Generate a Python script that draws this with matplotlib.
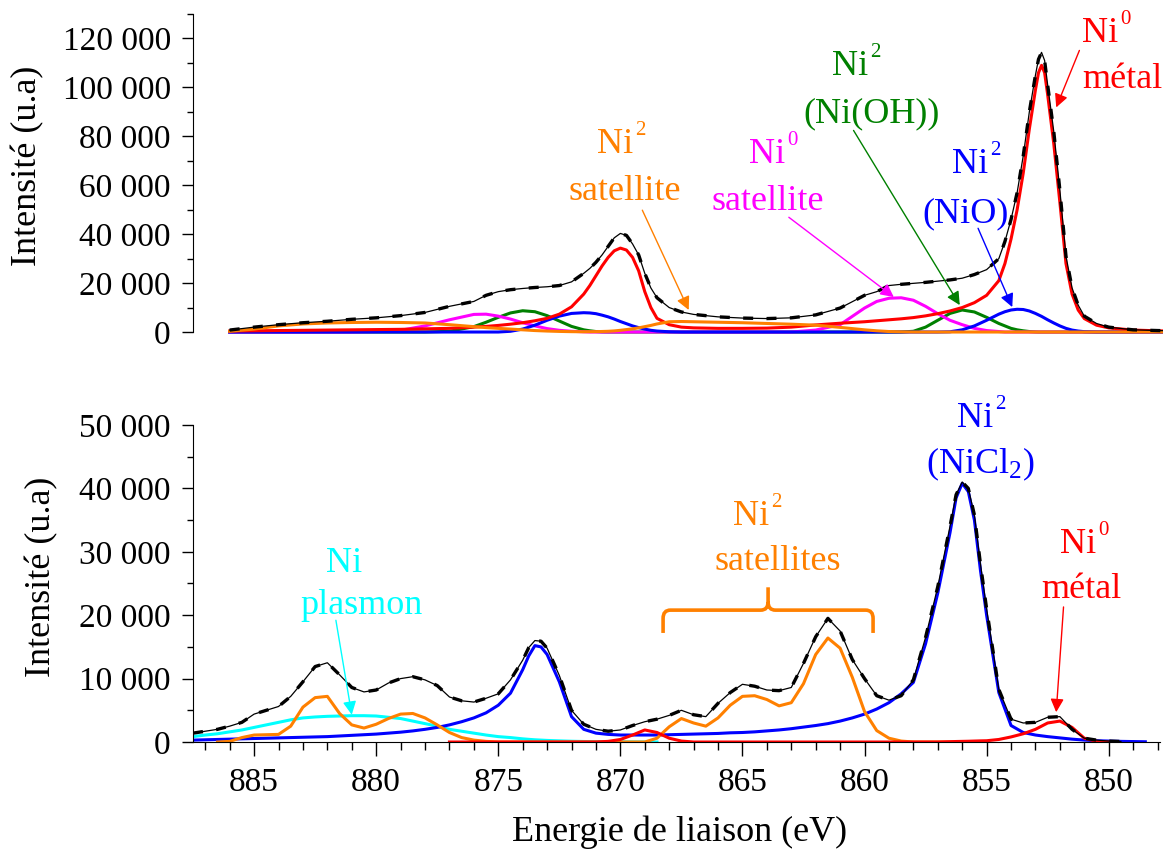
import numpy as np
import matplotlib
matplotlib.use("Agg")
import matplotlib.pyplot as plt
from matplotlib.ticker import MultipleLocator, FuncFormatter
from matplotlib.path import Path
from matplotlib.patches import PathPatch

plt.rcParams["font.family"] = ["Liberation Serif", "DejaVu Serif"]
plt.rcParams["mathtext.fontset"] = "custom"
plt.rcParams["mathtext.rm"] = "Liberation Serif"
plt.rcParams["mathtext.it"] = "Liberation Serif:italic"
plt.rcParams["mathtext.bf"] = "Liberation Serif:bold"

nan = np.nan

# ---- top panel (Ni metal sample) ----
top_energy = [886, 885, 884, 883, 882, 881, 880, 879, 878, 877,
              876, 875.5, 875, 874.5, 874, 873.5, 873, 872.5, 872, 871.5,
              871.25, 871, 870.75, 870.5, 870.25, 870, 869.75, 869.5, 869.25, 869,
              868.75, 868.5, 868, 867.5, 867, 866, 865, 864, 863, 862,
              861, 860, 859.5, 859, 858.5, 858, 857.5, 857, 856.5, 856,
              855.5, 855, 854.5, 854.25, 854, 853.75, 853.5, 853.25, 853, 852.875,
              852.75, 852.625, 852.5, 852.25, 852, 851.75, 851.5, 851.25, 851, 850.5,
              850, 849, 848, 847.5]

top_data = [800, 2000, 3000, 3800, 4400, 5200, 5800, 6700, 8000, 10500,
            12500, 15000, 16500, 17300, 17800, 18200, 18500, 19000, 20500, 24000,
            26000, 28500, 31500, 35000, 38500, 40300, 39500, 36000, 31500, 24000,
            18000, 14000, 10000, 8200, 7200, 6200, 5700, 5500, 5800, 7000,
            9800, 15000, 16500, 19000, 19500, 19900, 20300, 20800, 21300, 22000,
            23500, 25500, 30000, 37000, 46000, 57000, 72000, 90000, 105000, 111500,
            114300, 111000, 101000, 82000, 58000, 31000, 18000, 11000, 6500, 3500,
            2000, 900, 600, 500]

top_ni0 = [400, 500, 600, 700, 800, 900, 1000, 1100, 1300, 1500,
           2000, 2300, 2700, 3200, 3800, 4600, 5600, 7300, 10300, 15500,
           19000, 23000, 27000, 30500, 33200, 34300, 33500, 30500, 25000, 16500,
           10000, 5600, 3000, 2000, 1700, 1500, 1500, 1600, 2000, 2900,
           3600, 4200, 4600, 5000, 5400, 5900, 6600, 7500, 8600, 10000,
           12000, 15000, 21000, 28000, 38000, 50000, 65000, 83000, 99000, 106000,
           109000, 106000, 97000, 77000, 53000, 28000, 15500, 9000, 5500, 2800,
           1700, 800, 500, 400]

top_ni2_sat = [300, 1200, 2500, 3300, 3700, 3900, 4000, 3900, 3700, 3000,
               2200, 1800, 1500, 1200, 900, 600, 400, 250, 150, 100,
               120, 150, 220, 300, 450, 700, 1000, 1300, 1700, 2200,
               2700, 3300, 4200, 4300, 4200, 4000, 3800, 3500, 3200, 2800,
               1900, 900, 500, 200, 80, 0, 0, 0, 0, 0,
               0, 0, 0, 0, 0, 0, 0, 0, 0, 0,
               0, 0, 0, 0, 0, 0, 0, 0, 0, 0,
               0, 0, 0, 0]

top_ni0_sat = [0, 0, 0, 0, 0, 0, 200, 700, 2500, 5000,
               7200, 7300, 6500, 5300, 3800, 2500, 1400, 700, 300, 100,
               0, 0, 0, 0, 0, 0, 0, 0, 0, 0,
               0, 0, 0, 0, 0, 0, 0, 0, 0, 800,
               3000, 9800, 12500, 13800, 14000, 13000, 10500, 7500, 4800, 3000,
               1500, 600, 200, 0, 0, 0, 0, 0, 0, 0,
               0, 0, 0, 0, 0, 0, 0, 0, 0, 0,
               0, 0, 0, 0]

top_nioh = [0, 0, 0, 0, 0, 0, 0, 0, 0, 300,
            2200, 4000, 6000, 7800, 8700, 8300, 6700, 4500, 2300, 900,
            500, 200, 50, 0, 0, 0, 0, 0, 0, 0,
            0, 0, 0, 0, 0, 0, 0, 0, 0, 0,
            0, 0, 0, 0, 0, 300, 2000, 4800, 7600, 9000,
            8200, 6000, 3500, 2500, 1500, 900, 500, 200, 50, 0,
            0, 0, 0, 0, 0, 0, 0, 0, 0, 0,
            0, 0, 0, 0]

top_nio = [0, 0, 0, 0, 0, 0, 0, 0, 0, 0,
           0, 0, 0, 300, 1200, 2800, 4800, 6500, 7600, 7900,
           7800, 7500, 6900, 6200, 5300, 4300, 3400, 2500, 1800, 1200,
           700, 400, 100, 0, 0, 0, 0, 0, 0, 0,
           0, 0, 0, 0, 0, 0, 0, 0, 100, 900,
           2500, 4800, 7300, 8300, 9000, 9300, 9200, 8600, 7600, 7000,
           6400, 5700, 5000, 3700, 2500, 1500, 800, 400, 150, 0,
           0, 0, 0, 0]

# ---- bottom panel (NiCl2 sample) ----
bot_energy = [887.5, 887, 886.5, 886, 885.5, 885, 884.5, 884, 883.5, 883,
              882.5, 882, 881.5, 881, 880.5, 880, 879.5, 879, 878.5, 878,
              877.5, 877, 876.5, 876, 875.5, 875, 874.5, 874, 873.75, 873.5, 873.25, 873,
              872.5, 872, 871.5, 871, 870.5, 870, 869.5, 869, 868.5, 868,
              867.5, 867, 866.5, 866, 865.5, 865, 864.5, 864, 863.5, 863,
              862.5, 862, 861.5, 861, 860.5, 860, 859.5, 859, 858.5, 858,
              857.5, 857, 856.5, 856.25, 856, 855.75, 855.5, 855.25, 855, 854.5,
              854, 853.5, 853, 852.5, 852, 851.5, 851, 850.5, 850, 849.5,
              849, 848.5, 848]

bot_data = [1400, 1700, 2000, 2500, 3100, 4400, 5000, 5600, 7200, 9500,
            11900, 12500, 10600, 8600, 7900, 8200, 9300, 10000, 10300, 9800,
            8900, 7100, 6500, 6300, 6900, 7600, 9800, 12900, 14900, 16000, 15900, 14800,
            10500, 5000, 2800, 2000, 1700, 1900, 2600, 3200, 3600, 4200,
            5000, 4300, 4000, 6100, 7800, 9100, 8800, 8200, 8100, 8600,
            12400, 16600, 19500, 17500, 13000, 10000, 7300, 6600, 7300, 9800,
            16500, 24500, 34000, 39000, 41000, 40000, 35800, 28000, 21000, 8300,
            3600, 3000, 3100, 3900, 4000, 2000, 600, 300, 150, 80,
            nan, nan, nan]

bot_nicl2 = [300, 350, 400, 450, 500, 550, 600, 650, 700, 750,
             800, 850, 950, 1050, 1150, 1250, 1400, 1550, 1750, 2000,
             2300, 2700, 3200, 3800, 4600, 5800, 7700, 11400, 13600, 15200, 15000, 13800,
             9500, 4000, 2000, 1400, 1200, 1100, 1100, 1100, 1100, 1150,
             1200, 1250, 1300, 1350, 1450, 1500, 1600, 1750, 1900, 2100,
             2350, 2600, 2900, 3300, 3800, 4400, 5200, 6200, 7600, 9400,
             15500, 23500, 33000, 38500, 40800, 39500, 35000, 27000, 20000, 7800,
             2600, 1500, 1100, 850, 650, 450, 300, 200, 150, 100,
             70, 40, nan]

bot_ni2_sat = [nan, nan, 0, 100, 700, 1100, 1150, 1200, 2500, 5500,
               7000, 7200, 4500, 2700, 2200, 2800, 3700, 4400, 4500, 3800,
               2700, 1500, 700, 300, 100, 0, 0, 0, 0, 0, 0, 0,
               0, 0, 0, 0, 0, 0, 0, 0, 600, 2400,
               3700, 3000, 2500, 3800, 5800, 7200, 7300, 6700, 5700, 6200,
               9200, 13800, 16400, 14800, 10200, 4800, 1800, 600, 150, 0,
               0, 0, 0, 0, 0, 0, nan, nan, nan, nan,
               nan, nan, nan, nan, nan, nan, nan, nan, nan, nan,
               nan, nan, nan]

bot_plasmon = [850, 1100, 1300, 1600, 1900, 2300, 2700, 3100, 3500, 3800,
               3950, 4050, 4100, 4150, 4150, 4100, 3900, 3700, 3300, 2900,
               2500, 2000, 1700, 1400, 1100, 850, 700, 500, 420, 350, 300, 250,
               180, 120, 80, 50, 30, 20, 10, 0, 0, nan,
               nan, nan, nan, nan, nan, nan, nan, nan, nan, nan,
               nan, nan, nan, nan, nan, nan, nan, nan, nan, nan,
               nan, nan, nan, nan, nan, nan, nan, nan, nan, nan,
               nan, nan, nan, nan, nan, nan, nan, nan, nan, nan,
               nan, nan, nan]

bot_ni0 = [nan, nan, nan, nan, nan, nan, nan, nan, nan, nan,
           nan, nan, nan, nan, nan, nan, nan, nan, nan, nan,
           nan, 0, 0, 0, 0, 0, 0, 0, 0, 0, 0, 0,
           0, 0, 0, 0, 100, 400, 1100, 1900, 1500, 600,
           150, 0, 0, 0, 0, 0, 0, 0, 0, 0,
           0, 0, 0, 0, 0, 0, 0, 0, 0, 0,
           0, 0, 50, 80, 100, 120, 150, 180, 200, 400,
           800, 1300, 2000, 3000, 3300, 2300, 600, 100, 0, nan,
           nan, nan, nan]

ORANGE = "#FF8000"
MAGENTA = "#FF00FF"
GREEN = "#008000"
BLUE = "#0000FF"
RED = "#FF0000"
CYAN = "#00FFFF"

FS = 26
fmt = FuncFormatter(lambda v, p: f"{int(round(v)):,}".replace(",", " "))

fig = plt.figure(figsize=(11.63, 8.52), dpi=100)
ax_top = fig.add_axes([0.166, 0.6103, 0.8314, 0.3733])
ax_bot = fig.add_axes([0.166, 0.1291, 0.8314, 0.3721])

for ax in (ax_top, ax_bot):
    ax.set_xlim(887.5, 847.9)
    ax.spines["top"].set_visible(False)
    ax.spines["right"].set_visible(False)
    ax.yaxis.set_major_formatter(fmt)
    ax.tick_params(axis="both", which="major", direction="out", length=8,
                   width=1, labelsize=24, pad=8)
    ax.tick_params(axis="both", which="minor", direction="out", length=4.5,
                   width=1)

ax_top.set_ylim(0, 130000)
ax_top.set_yticks(np.arange(0, 120001, 20000))
ax_top.set_yticks(np.arange(10000, 130001, 20000), minor=True)
ax_top.spines["bottom"].set_visible(False)
ax_top.tick_params(axis="x", which="both", bottom=False, labelbottom=False)

ax_bot.set_ylim(0, 50000)
ax_bot.yaxis.set_major_locator(MultipleLocator(10000))
ax_bot.yaxis.set_minor_locator(MultipleLocator(5000))
ax_bot.xaxis.set_major_locator(MultipleLocator(5))
ax_bot.xaxis.set_minor_locator(MultipleLocator(1))
ax_bot.tick_params(axis="x", which="major", length=10)
ax_bot.tick_params(axis="x", which="minor", length=5.5)

LW = 2.2
for vals, c in [(top_nioh, GREEN), (top_ni0_sat, MAGENTA), (top_nio, BLUE),
                (top_ni0, RED), (top_ni2_sat, ORANGE)]:
    ax_top.plot(top_energy, vals, color=c, lw=LW, clip_on=False)
ax_top.plot(top_energy, top_data, color="black", lw=0.9, clip_on=False)
ax_top.plot(top_energy, top_data, color="black", lw=2.4, ls=(0, (3, 4)),
            clip_on=False)

for vals, c in [(bot_plasmon, CYAN), (bot_nicl2, BLUE), (bot_ni2_sat, ORANGE),
                (bot_ni0, RED)]:
    ax_bot.plot(bot_energy, vals, color=c, lw=LW)
ax_bot.plot(bot_energy, bot_data, color="black", lw=0.9)
ax_bot.plot(bot_energy, bot_data, color="black", lw=2.4, ls=(0, (3, 4)))


def label(ax, x, y, s, color, sup=None):
    ax.text(x, y, s, color=color, fontsize=FS, ha="center", va="baseline",
            clip_on=False)
    if sup is not None:
        # small raised index just right of "Ni"
        ax.annotate(sup, xy=(x, y), xytext=(14.5, 13), textcoords="offset points",
                    color=color, fontsize=15, ha="left", va="baseline",
                    annotation_clip=False)


def arrow(ax, tail, tip, color):
    ax.annotate("", xy=tip, xytext=tail,
                arrowprops=dict(arrowstyle="-|>", color=color, lw=1,
                                mutation_scale=20, shrinkA=0, shrinkB=0))


# top annotations
label(ax_top, 870.23, 73000, "Ni", ORANGE, "2")
label(ax_top, 869.8, 53900, "satellite", ORANGE)
arrow(ax_top, (869.1, 49800), (867.2, 9000), ORANGE)
label(ax_top, 863.97, 69000, "Ni", MAGENTA, "0")
label(ax_top, 863.95, 49800, "satellite", MAGENTA)
arrow(ax_top, (863.1, 46900), (858.8, 14300), MAGENTA)
label(ax_top, 860.6, 104900, "Ni", GREEN, "2")
label(ax_top, 859.7, 85700, "(Ni(OH))", GREEN)
arrow(ax_top, (860.45, 82400), (856.1, 11000), GREEN)
label(ax_top, 855.68, 64900, "Ni", BLUE, "2")
label(ax_top, 855.85, 44900, "(NiO)", BLUE)
arrow(ax_top, (855.35, 42400), (853.95, 10200), BLUE)
label(ax_top, 850.35, 118400, "Ni", RED, "0")
label(ax_top, 849.45, 99600, "métal", RED)
arrow(ax_top, (851.2, 115100), (852.15, 91800), RED)

# bottom annotations
label(ax_bot, 881.3, 26800, "Ni", CYAN)
label(ax_bot, 880.6, 20200, "plasmon", CYAN)
arrow(ax_bot, (881.65, 19200), (881.0, 4300), CYAN)
label(ax_bot, 864.63, 34200, "Ni", ORANGE, "2")
label(ax_bot, 863.55, 27100, "satellites", ORANGE)
label(ax_bot, 855.48, 49700, "Ni", BLUE, "2")
label(ax_bot, 855.25, 42400, r"(NiCl$_{2}$)", BLUE)
label(ax_bot, 851.25, 29800, "Ni", RED, "0")
label(ax_bot, 851.1, 22700, "métal", RED)
arrow(ax_bot, (851.85, 21300), (852.15, 4700), RED)

# curly bracket over the satellites
bl, br, bm = 868.25, 859.65, 863.95
y_end, y_bar, y_tip = 17200, 20800, 24400
rx, ry = 0.3, 1300
verts = [(bl, y_end), (bl, y_bar - ry), (bl, y_bar), (bl - rx, y_bar),
         (bm + rx, y_bar), (bm, y_bar), (bm, y_bar + ry), (bm, y_tip),
         (bm, y_bar + ry), (bm, y_bar), (bm - rx, y_bar),
         (br + rx, y_bar), (br, y_bar), (br, y_bar - ry), (br, y_end)]
codes = [Path.MOVETO, Path.LINETO, Path.CURVE3, Path.CURVE3,
         Path.LINETO, Path.CURVE3, Path.CURVE3, Path.LINETO,
         Path.MOVETO, Path.CURVE3, Path.CURVE3,
         Path.LINETO, Path.CURVE3, Path.CURVE3, Path.LINETO]
ax_bot.add_patch(PathPatch(Path(verts, codes), fill=False, edgecolor=ORANGE,
                           lw=2.6, capstyle="butt"))

fig.text(0.0241, 0.805, "Intensité (u.a)", rotation=90, fontsize=FS,
         ha="center", va="center")
fig.text(0.0361, 0.3228, "Intensité (u.a)", rotation=90, fontsize=FS,
         ha="center", va="center")
fig.text(0.5847, 0.0235, "Energie de liaison (eV)", fontsize=FS,
         ha="center", va="center")

fig.savefig("out.png", dpi=100)
